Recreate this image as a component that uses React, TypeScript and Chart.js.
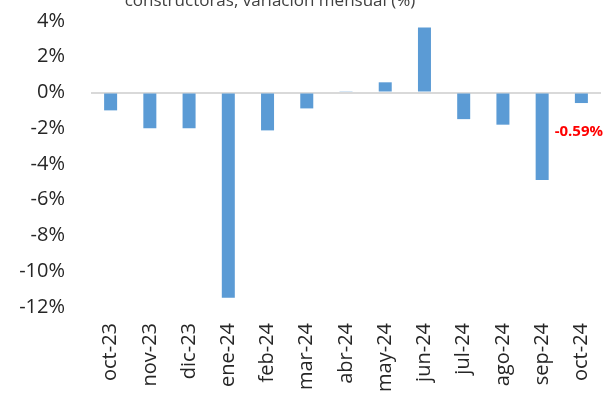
import React, { useEffect, useRef } from "react";
import { Chart, registerables } from "chart.js";

Chart.register(...registerables);

const categories = ["oct-23", "nov-23", "dic-23", "ene-24", "feb-24", "mar-24", "abr-24", "may-24", "jun-24", "jul-24", "ago-24", "sep-24", "oct-24"];
const values = [-1.0, -2.0, -2.0, -11.48, -2.12, -0.89, 0.07, 0.57, 3.64, -1.49, -1.8, -4.9, -0.59];
const yTicks = [4, 2, 0, -2, -4, -6, -8, -10, -12];
const titleText = "constructoras, variación mensual (%)";
const lastLabel = "-0.59%";

const FONT = "'Open Sans', 'Noto Sans', sans-serif";

export default function App() {
  const ref = useRef<HTMLCanvasElement>(null);
  useEffect(() => {
    const labelPlugin = {
      id: "extras",
      afterDraw(chart: any) {
        const ctx = chart.ctx;
        const ys = chart.scales.y;
        ctx.save();
        ctx.fillStyle = "#404040";
        ctx.font = `17px ${FONT}`;
        ctx.textAlign = "center";
        ctx.textBaseline = "alphabetic";
        ctx.fillText(titleText, 270, 6);
        ctx.fillStyle = "#ff0000";
        ctx.font = `bold 15px ${FONT}`;
        ctx.textAlign = "right";
        ctx.textBaseline = "middle";
        ctx.fillText(lastLabel, chart.width - 1, ys.getPixelForValue(-2.2));
        ctx.restore();
      },
    };
    const chart = new Chart(ref.current!, {
      type: "bar",
      data: {
        labels: categories,
        datasets: [
          {
            data: values,
            backgroundColor: "#5b9bd5",
            barPercentage: 0.5,
            categoryPercentage: 0.663,
          },
        ],
      },
      options: {
        responsive: false,
        animation: false,
        layout: { padding: { top: 21, right: 3, left: 0, bottom: 0 } },
        plugins: { legend: { display: false }, tooltip: { enabled: false }, title: { display: false } },
        scales: {
          x: {
            grid: { display: false, drawTicks: false },
            border: { display: false },
            ticks: {
              color: "#262626",
              font: { family: FONT, size: 20 },
              maxRotation: 90,
              minRotation: 90,
              padding: 16,
              autoSkip: false,
            },
            afterFit(scale: any) {
              scale.height = 93;
              scale.paddingLeft = 0;
              scale.paddingRight = 0;
            },
          },
          y: {
            min: -12,
            max: 4,
            afterBuildTicks(scale: any) {
              scale.ticks = yTicks.map((v) => ({ value: v }));
            },
            grid: {
              drawTicks: false,
              color: (c: any) => (c.tick && c.tick.value === 0 ? "#d9d9d9" : "rgba(0,0,0,0)"),
              lineWidth: 2,
            },
            border: { display: false },
            ticks: {
              color: "#262626",
              font: { family: FONT, size: 20 },
              padding: 26,
              callback: (v: any) => `${v}%`,
            },
            afterFit(scale: any) {
              scale.width = 91;
              scale.paddingTop = 0;
              scale.paddingBottom = 0;
            },
          },
        },
      },
      plugins: [labelPlugin],
    });
    return () => chart.destroy();
  }, []);
  return (
    <div style={{ position: "fixed", left: 0, top: 0, width: 604, height: 400, background: "#fff" }}>
      <canvas ref={ref} width={604} height={400} style={{ width: 604, height: 400 }} />
    </div>
  );
}
